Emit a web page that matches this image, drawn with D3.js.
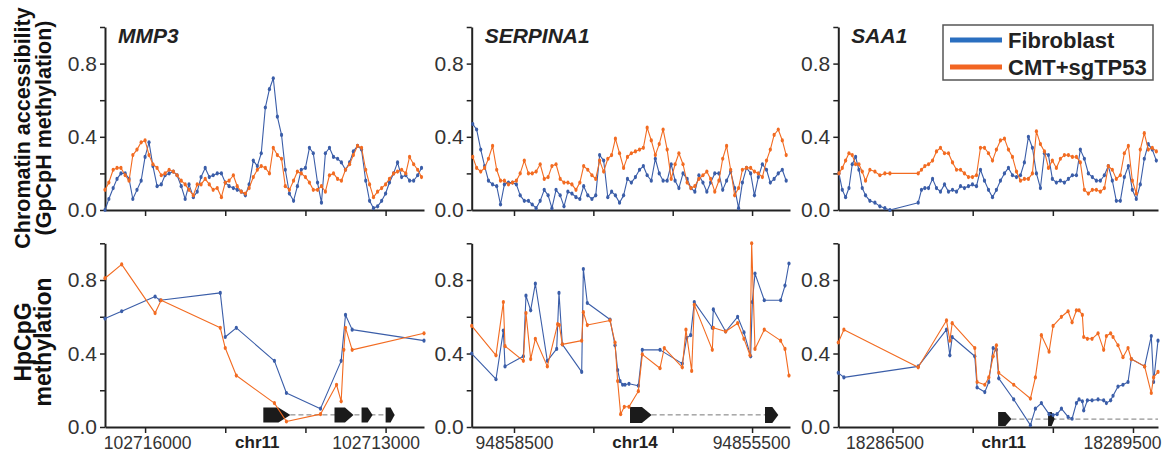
<!DOCTYPE html>
<html><head><meta charset="utf-8">
<script src="https://cdn.jsdelivr.net/npm/d3@7"></script>
<style>
html,body{margin:0;padding:0;background:#fff;}
svg{display:block;font-family:"Liberation Sans",Arial,Helvetica,sans-serif;}
</style></head><body>
<svg id="chart" width="1170" height="457"></svg>
<script>
// ---------------- DATA ----------------
const geneNames = ["MMP3", "SERPINA1", "SAA1"];
const chromNames = ["chr11", "chr14", "chr11"];
const seriesNames = ["Fibroblast", "CMT+sgTP53"];
const yTickValues = [0, 0.2, 0.4, 0.6, 0.8, 1.0];
const yTickLabelled = [0, 0.4, 0.8];

// MMP3 (chr11, minus strand -> reversed axis)
const mmp3Domain = [102716500, 102712521];
const mmp3Ticks = [102716000, 102715000, 102714000, 102713000];
const mmp3TickLabels = ["102716000", "", "", "102713000"];
const mmp3AccPos = [102716500,102716452,102716398,102716350,102716301,102716248,102716200,102716153,102716101,102716049,
  102716000,102715951,102715902,102715850,102715798,102715751,102715700,102715648,102715601,102715549,
  102715500,102715452,102715398,102715350,102715302,102715250,102715199,102715151,102715100,102715048,
  102715000,102714952,102714899,102714851,102714800,102714749,102714702,102714650,102714600,102714551,
  102714500,102714449,102714401,102714350,102714298,102714251,102714200,102714148,102714100,102714052,
  102714000,102713950,102713902,102713849,102713800,102713751,102713700,102713650,102713599,102713551,
  102713500,102713449,102713402,102713350,102713300,102713248,102713200,102713151,102713100,102713049,
  102713000,102712952,102712900,102712851,102712800,102712748,102712701,102712650,102712600,102712552];
const mmp3AccFib = [0.00,0.06,0.12,0.17,0.20,0.20,0.17,0.06,0.11,0.16,
  0.29,0.37,0.24,0.13,0.14,0.19,0.20,0.21,0.19,0.13,
  0.06,0.14,0.07,0.10,0.18,0.23,0.18,0.19,0.20,0.20,
  0.15,0.13,0.12,0.11,0.10,0.08,0.14,0.27,0.24,0.31,
  0.56,0.66,0.72,0.51,0.41,0.22,0.09,0.05,0.13,0.22,
  0.23,0.34,0.31,0.15,0.04,0.31,0.34,0.29,0.28,0.26,
  0.22,0.26,0.32,0.35,0.33,0.16,0.05,0.01,0.02,0.05,
  0.09,0.15,0.20,0.26,0.18,0.19,0.16,0.16,0.19,0.23];
const mmp3AccCmt = [0.11,0.15,0.22,0.23,0.23,0.19,0.16,0.30,0.33,0.37,
  0.38,0.30,0.25,0.23,0.19,0.20,0.22,0.21,0.19,0.16,
  0.14,0.11,0.08,0.14,0.14,0.17,0.14,0.11,0.12,0.07,
  0.15,0.16,0.19,0.13,0.10,0.09,0.12,0.18,0.22,0.24,
  0.23,0.20,0.34,0.30,0.28,0.13,0.11,0.16,0.21,0.20,
  0.18,0.15,0.11,0.11,0.13,0.10,0.19,0.20,0.17,0.16,
  0.22,0.25,0.30,0.35,0.34,0.22,0.14,0.07,0.10,0.12,
  0.14,0.17,0.20,0.21,0.22,0.20,0.29,0.25,0.22,0.18];
const mmp3MethPosFib = [102716500,102716292,102715875,102715812,102715062,102715000,102714862,102714387,102714237,102713812,102713554,102713500,102713417,102712521];
const mmp3MethFib = [0.59,0.63,0.71,0.69,0.73,0.49,0.54,0.36,0.185,0.10,0.36,0.61,0.53,0.47];
const mmp3MethPosCmt = [102716500,102716292,102715875,102715800,102715062,102715000,102714862,102714387,102714237,102713812,102713612,102713554,102713521,102713500,102713417,102712521];
const mmp3MethCmt = [0.81,0.885,0.62,0.69,0.54,0.43,0.28,0.13,0.03,0.07,0.23,0.14,0.42,0.54,0.42,0.51];
const mmp3Exons = [[102714525,102714187],[102713637,102713400],[102713300,102713162],[102713000,102712887]];
const mmp3Intron = [102714187, 102712887];

// SERPINA1 (chr14, reversed axis)
const serpDomain = [94859033, 94855022];
const serpTicks = [94858500, 94857500, 94856500, 94855500];
const serpTickLabels = ["94858500", "", "", "94855500"];
const serpAccPos = [94859020,94858971,94858919,94858870,94858822,94858770,94858718,94858670,94858621,94858570,
  94858519,94858470,94858422,94858370,94858318,94858270,94858221,94858170,94858119,94858070,
  94858022,94857970,94857918,94857870,94857821,94857770,94857719,94857670,94857622,94857570,
  94857518,94857470,94857421,94857370,94857318,94857270,94857222,94857170,94857119,94857070,
  94857021,94856970,94856918,94856870,94856822,94856770,94856719,94856670,94856621,94856570,
  94856519,94856470,94856422,94856370,94856318,94856270,94856221,94856170,94856119,94856070,
  94856022,94855970,94855918,94855870,94855821,94855770,94855719,94855670,94855622,94855570,
  94855518,94855470,94855421,94855370,94855318,94855270,94855222,94855170,94855119,94855070];
const serpAccFib = [0.47,0.44,0.33,0.24,0.16,0.14,0.13,0.03,0.14,0.15,
  0.15,0.14,0.08,0.05,0.05,0.03,0.01,0.05,0.11,0.08,
  0.01,0.11,0.08,0.02,0.10,0.09,0.07,0.06,0.13,0.08,
  0.06,0.08,0.30,0.27,0.07,0.10,0.08,0.04,0.08,0.17,
  0.15,0.18,0.22,0.24,0.19,0.16,0.28,0.20,0.16,0.16,
  0.25,0.16,0.12,0.20,0.17,0.12,0.10,0.19,0.15,0.10,
  0.15,0.20,0.20,0.11,0.16,0.21,0.12,0.01,0.15,0.23,
  0.20,0.08,0.18,0.25,0.22,0.15,0.17,0.20,0.22,0.16];
const serpAccCmt = [0.29,0.23,0.21,0.23,0.28,0.35,0.22,0.16,0.16,0.14,
  0.15,0.16,0.20,0.27,0.20,0.20,0.21,0.25,0.17,0.18,
  0.24,0.25,0.17,0.15,0.15,0.14,0.11,0.15,0.24,0.22,
  0.19,0.17,0.27,0.21,0.28,0.30,0.39,0.31,0.23,0.29,
  0.31,0.32,0.33,0.34,0.45,0.38,0.30,0.36,0.44,0.33,
  0.17,0.25,0.31,0.25,0.15,0.12,0.13,0.17,0.19,0.21,
  0.17,0.10,0.16,0.28,0.35,0.22,0.08,0.12,0.22,0.23,
  0.23,0.21,0.20,0.18,0.27,0.33,0.41,0.44,0.38,0.30];
const serpMethPosFib = [94859033,94858727,94858634,94858613,94858382,94858349,94858290,94858231,94858080,94857962,
  94857933,94857891,94857647,94857626,94857576,94857290,94857227,94857194,94857164,94857131,
  94857101,94857051,94856933,94856883,94856660,94856379,94856324,94856274,94856228,94856001,
  94855988,94855833,94855682,94855602,94855518,94855497,94855463,94855346,94855140,94855085,94855035];
const serpMethFib = [0.40,0.26,0.525,0.33,0.385,0.715,0.635,0.78,0.36,0.425,
  0.73,0.45,0.30,0.86,0.675,0.585,0.445,0.31,0.25,0.23,
  0.23,0.235,0.225,0.42,0.42,0.345,0.485,0.50,0.68,0.54,
  0.64,0.52,0.60,0.515,0.385,0.68,0.835,0.69,0.69,0.77,0.89];
const serpMethPosCmt = [94859033,94858727,94858634,94858613,94858382,94858349,94858290,94858231,94858080,94857950,
  94857929,94857891,94857647,94857626,94857576,94857290,94857227,94857194,94857156,94857110,
  94857051,94856933,94856883,94856660,94856606,94856379,94856333,94856261,94856228,94856001,
  94855988,94855833,94855682,94855602,94855526,94855505,94855463,94855346,94855140,94855085,94855035];
const serpMethCmt = [0.55,0.39,0.68,0.44,0.36,0.62,0.37,0.48,0.33,0.56,
  0.555,0.45,0.47,0.625,0.555,0.58,0.46,0.25,0.07,0.11,
  0.11,0.195,0.395,0.32,0.43,0.325,0.53,0.305,0.665,0.42,
  0.54,0.52,0.565,0.48,0.39,1.0,0.425,0.53,0.47,0.425,0.28];
const serpExons = [[94857038,94856765],[94855337,94855169]];
const serpIntron = [94856765, 94855337];

// SAA1 (chr11, forward axis)
const saa1Domain = [18285823, 18289812];
const saa1Ticks = [18286500, 18287500, 18288500, 18289500];
const saa1TickLabels = ["18286500", "", "", "18289500"];
const saa1AccPos = [18285831,18285873,18285914,18285956,18285997,18286039,18286080,18286122,18286163,18286217,
  18286280,18286342,18286404,18286467,18286820,18286861,18286903,18286949,18286999,18287048,
  18287098,18287148,18287198,18287248,18287298,18287348,18287397,18287447,18287497,18287547,
  18287597,18287647,18287697,18287747,18287796,18287846,18287896,18287946,18287996,18288046,
  18288096,18288145,18288195,18288245,18288295,18288345,18288395,18288445,18288494,18288544,
  18288594,18288644,18288694,18288744,18288794,18288843,18288893,18288943,18288993,18289043,
  18289093,18289143,18289192,18289242,18289292,18289342,18289392,18289442,18289492,18289541,
  18289591,18289641,18289691,18289741,18289791];
const saa1AccFib = [0.20,0.11,0.07,0.12,0.25,0.29,0.22,0.12,0.08,0.05,
  0.04,0.02,0.01,0.00,0.04,0.11,0.12,0.12,0.17,0.12,
  0.10,0.14,0.10,0.11,0.10,0.13,0.12,0.13,0.14,0.13,
  0.22,0.16,0.11,0.07,0.11,0.16,0.20,0.23,0.19,0.18,
  0.19,0.26,0.40,0.34,0.20,0.12,0.31,0.30,0.17,0.15,
  0.16,0.15,0.17,0.19,0.19,0.33,0.28,0.20,0.18,0.16,
  0.16,0.19,0.24,0.16,0.05,0.05,0.18,0.24,0.11,0.06,
  0.14,0.28,0.36,0.33,0.27];
const saa1AccCmt = [0.20,0.23,0.27,0.31,0.30,0.25,0.25,0.21,0.16,0.22,
  0.21,0.19,0.20,0.20,0.20,0.22,0.24,0.25,0.27,0.32,
  0.34,0.31,0.31,0.26,0.22,0.22,0.20,0.18,0.18,0.19,
  0.34,0.34,0.31,0.27,0.33,0.38,0.39,0.33,0.29,0.21,
  0.16,0.17,0.17,0.20,0.43,0.36,0.32,0.23,0.27,0.23,
  0.28,0.30,0.30,0.29,0.29,0.26,0.11,0.09,0.11,0.11,
  0.10,0.12,0.24,0.22,0.17,0.19,0.31,0.35,0.16,0.09,
  0.33,0.42,0.33,0.34,0.32];
const saa1MethPosFib = [18285823,18285893,18286820,18287173,18287215,18287244,18287526,18287555,18287651,18287701,
  18287755,18287796,18287825,18288012,18288220,18288282,18288357,18288453,18288503,18288553,
  18288607,18288690,18288740,18288794,18288827,18288868,18288885,18288931,18288989,18289064,
  18289134,18289168,18289221,18289251,18289313,18289375,18289438,18289479,18289645,18289728,
  18289757,18289812];
const saa1MethFib = [0.295,0.27,0.33,0.53,0.39,0.49,0.385,0.215,0.19,0.245,
  0.43,0.42,0.265,0.15,0.01,0.10,0.13,0.07,0.065,0.07,
  0.10,0.055,0.045,0.13,0.15,0.14,0.09,0.145,0.145,0.15,
  0.145,0.13,0.145,0.17,0.22,0.23,0.245,0.37,0.33,0.495,
  0.245,0.47];
const saa1MethPosCmt = [18285823,18285893,18286820,18287173,18287215,18287244,18287526,18287555,18287651,18287701,
  18287755,18287796,18287825,18288012,18288220,18288282,18288357,18288453,18288503,
  18288607,18288690,18288740,18288794,18288827,18288868,18288885,18288931,18288989,18289064,
  18289134,18289168,18289221,18289251,18289313,18289375,18289438,18289479,18289645,18289728,
  18289757,18289812];
const saa1MethCmt = [0.46,0.53,0.325,0.58,0.47,0.565,0.43,0.245,0.23,0.27,
  0.385,0.445,0.295,0.23,0.155,0.27,0.50,0.41,0.55,
  0.60,0.63,0.57,0.635,0.635,0.61,0.49,0.48,0.48,0.51,
  0.42,0.495,0.51,0.49,0.445,0.38,0.43,0.37,0.33,0.185,
  0.27,0.30];
const saa1Exons = [[18287817,18287983],[18288440,18288523]];
const saa1Intron = [18287983, 18289812];

// ---------------- LAYOUT / STYLE ----------------
const COLORS = { fib: "#3a5da8", cmt: "#f26b21", legFib: "#2a6fc0", legCmt: "#f26522", axis: "#222", text: "#333" };
const panelX = [[105, 424], [471.7, 790], [838.3, 1158]];
const topRange = [210, 27];
const botRange = [427, 243.3];
const geneTrack = [{ level: 0.066, h: 15 }, { level: 0.066, h: 16 }, { level: 0.043, h: 14 }];
const xLabelDx = [[2, 0, 0, -10], [0, 0, 0, -1], [-8, 0, 0, -11]];
const chromDx = [-8, 2, -9];

const panels = [
  { name: geneNames[0], chrom: chromNames[0], domain: mmp3Domain, ticks: mmp3Ticks, tickLabels: mmp3TickLabels,
    accPos: mmp3AccPos, accFib: mmp3AccFib, accCmt: mmp3AccCmt,
    methPosFib: mmp3MethPosFib, methFib: mmp3MethFib, methPosCmt: mmp3MethPosCmt, methCmt: mmp3MethCmt,
    exons: mmp3Exons, intron: mmp3Intron },
  { name: geneNames[1], chrom: chromNames[1], domain: serpDomain, ticks: serpTicks, tickLabels: serpTickLabels,
    accPos: serpAccPos, accFib: serpAccFib, accCmt: serpAccCmt,
    methPosFib: serpMethPosFib, methFib: serpMethFib, methPosCmt: serpMethPosCmt, methCmt: serpMethCmt,
    exons: serpExons, intron: serpIntron },
  { name: geneNames[2], chrom: chromNames[2], domain: saa1Domain, ticks: saa1Ticks, tickLabels: saa1TickLabels,
    accPos: saa1AccPos, accFib: saa1AccFib, accCmt: saa1AccCmt,
    methPosFib: saa1MethPosFib, methFib: saa1MethFib, methPosCmt: saa1MethPosCmt, methCmt: saa1MethCmt,
    exons: saa1Exons, intron: saa1Intron }
];

const svg = d3.select("#chart");

function styleAxis(g) {
  g.select(".domain").attr("stroke", COLORS.axis).attr("stroke-width", 2);
  g.selectAll(".tick line").attr("stroke", COLORS.axis).attr("stroke-width", 1.5);
  g.selectAll(".tick text").attr("fill", COLORS.text);
}

function drawSeries(g, x, y, pos, vals, color) {
  const pts = pos.map((p, i) => [p, vals[i]]);
  const line = d3.line().x(d => x(d[0])).y(d => y(d[1]));
  g.append("path").datum(pts).attr("d", line).attr("fill", "none")
    .attr("stroke", color).attr("stroke-width", 1.1).attr("stroke-linejoin", "round");
  g.selectAll(null).data(pts).enter().append("ellipse")
    .attr("cx", d => x(d[0])).attr("cy", d => y(d[1]))
    .attr("rx", 1.6).attr("ry", 2.1).attr("fill", color);
}

panels.forEach((p, i) => {
  const x = d3.scaleLinear().domain(p.domain).range(panelX[i]);
  const yT = d3.scaleLinear().domain([0, 1]).range(topRange);
  const yB = d3.scaleLinear().domain([0, 1]).range(botRange);
  const x0 = panelX[i][0];
  const fmtY = d => yTickLabelled.some(v => Math.abs(v - d) < 1e-9) ? d3.format(".1f")(d) : "";

  // ---- gene model (bottom panel) ----
  const gt = geneTrack[i];
  const cy = yB(gt.level);
  const gg = svg.append("g");
  gg.append("line")
    .attr("x1", x(p.intron[0])).attr("x2", x(p.intron[1]))
    .attr("y1", cy).attr("y2", cy)
    .attr("stroke", "#777").attr("stroke-width", 1).attr("stroke-dasharray", "5,3");
  gg.selectAll(null).data(p.exons).enter().append("path")
    .attr("d", e => {
      const a = Math.min(x(e[0]), x(e[1])), b = Math.max(x(e[0]), x(e[1]));
      const w = b - a, head = Math.min(12, 0.45 * w), h = gt.h / 2;
      return `M${a},${cy - h}L${b - head},${cy - h}L${b},${cy}L${b - head},${cy + h}L${a},${cy + h}Z`;
    })
    .attr("fill", "#1b1b1b");

  // ---- top axes ----
  const gyT = svg.append("g").attr("transform", `translate(${x0},0)`)
    .call(d3.axisLeft(yT).tickValues(yTickValues).tickSize(5).tickSizeOuter(0).tickPadding(3).tickFormat(fmtY));
  gyT.selectAll(".tick text").attr("font-size", 21);
  styleAxis(gyT);
  const gxT = svg.append("g").attr("transform", `translate(0,${topRange[0]})`)
    .call(d3.axisBottom(x).tickValues(p.ticks).tickSize(6).tickSizeOuter(0).tickFormat(() => ""));
  styleAxis(gxT);

  // ---- bottom axes ----
  const gyB = svg.append("g").attr("transform", `translate(${x0},0)`)
    .call(d3.axisLeft(yB).tickValues(yTickValues).tickSize(5).tickSizeOuter(0).tickPadding(3).tickFormat(fmtY));
  gyB.selectAll(".tick text").attr("font-size", 21);
  styleAxis(gyB);
  const gxB = svg.append("g").attr("transform", `translate(0,${botRange[0]})`)
    .call(d3.axisBottom(x).tickValues(p.ticks).tickSize(6).tickSizeOuter(0).tickPadding(4)
      .tickFormat((d, j) => p.tickLabels[j]));
  styleAxis(gxB);
  gxB.selectAll(".tick text").attr("font-size", 17.5).attr("dx", (d, j) => xLabelDx[i][j]);

  // chromosome label between 2nd and 3rd ticks
  svg.append("text")
    .attr("x", x((p.ticks[1] + p.ticks[2]) / 2) + chromDx[i]).attr("y", 448)
    .attr("text-anchor", "middle").attr("font-size", 17).attr("font-weight", "bold")
    .attr("fill", "#222").text(p.chrom);

  // ---- data ----
  const gT = svg.append("g");
  drawSeries(gT, x, yT, p.accPos, p.accFib, COLORS.fib);
  drawSeries(gT, x, yT, p.accPos, p.accCmt, COLORS.cmt);
  const gB = svg.append("g");
  drawSeries(gB, x, yB, p.methPosFib, p.methFib, COLORS.fib);
  drawSeries(gB, x, yB, p.methPosCmt, p.methCmt, COLORS.cmt);

  // ---- gene name ----
  svg.append("text").attr("x", x0 + 13).attr("y", 43)
    .attr("font-size", 21).attr("font-weight", "bold").attr("font-style", "italic")
    .attr("fill", "#222").text(p.name);
});

// ---- y-axis titles ----
const titles = [
  { t: "Chromatin accessibility", x: 30, y: 128, fs: 21.5 },
  { t: "(GpCpH methylation)", x: 51, y: 128, fs: 21.5 },
  { t: "HpCpG", x: 31, y: 342, fs: 23 },
  { t: "methylation", x: 51, y: 342, fs: 23 }
];
titles.forEach(d => {
  svg.append("text").attr("transform", `translate(${d.x},${d.y}) rotate(-90)`)
    .attr("text-anchor", "middle").attr("font-size", d.fs).attr("font-weight", "bold")
    .attr("fill", "#111").text(d.t);
});

// ---- legend ----
const lg = svg.append("g").attr("transform", "translate(943,25)");
lg.append("rect").attr("width", 210).attr("height", 55).attr("fill", "#fff")
  .attr("stroke", "#555").attr("stroke-width", 1.5);
[COLORS.legFib, COLORS.legCmt].forEach((c, i) => {
  const yy = 15 + i * 27;
  lg.append("line").attr("x1", 7).attr("x2", 59).attr("y1", yy).attr("y2", yy)
    .attr("stroke", c).attr("stroke-width", 5);
  lg.append("text").attr("x", 65).attr("y", yy + 7.5).attr("font-size", 22)
    .attr("font-weight", "bold").attr("fill", "#222").text(seriesNames[i]);
});
</script>
</body></html>
